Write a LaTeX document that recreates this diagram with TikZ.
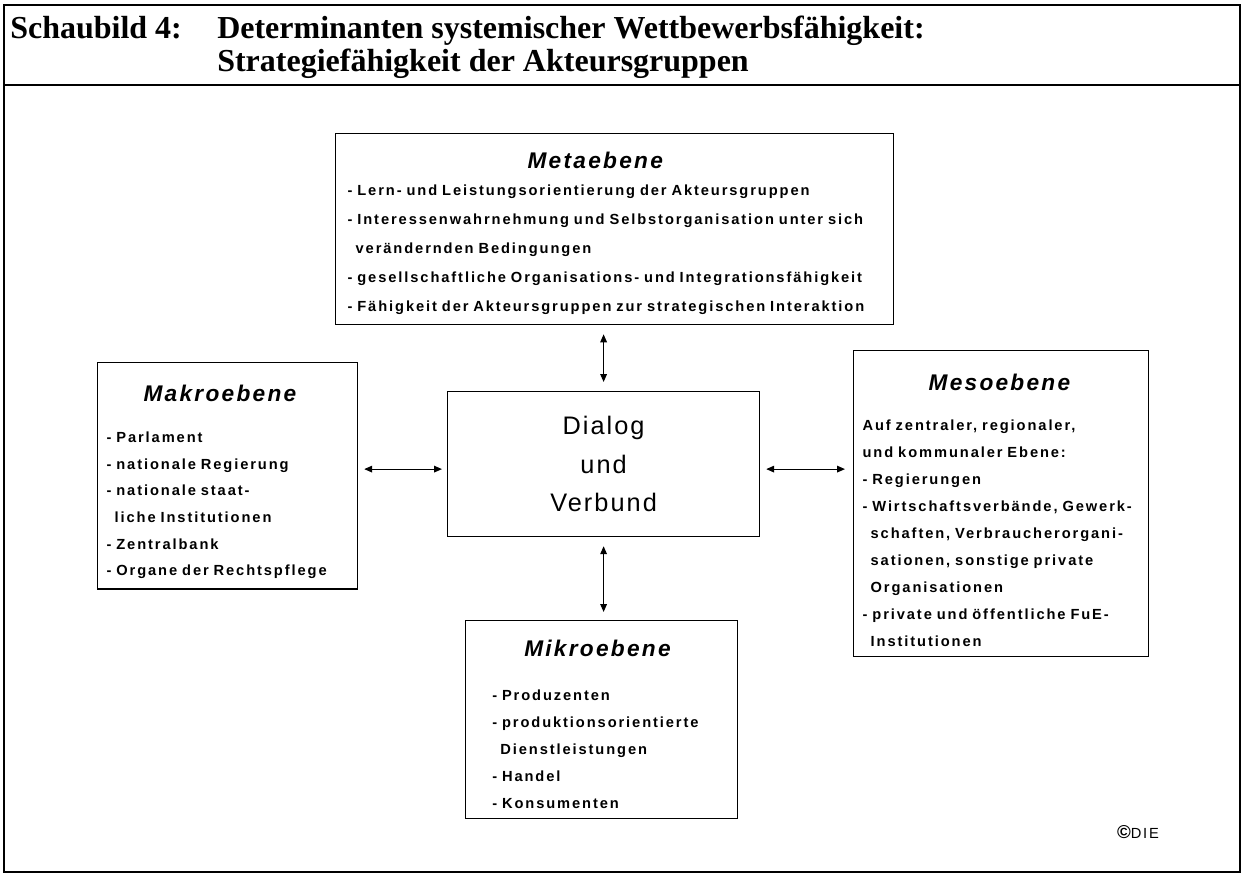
\documentclass[tikz,border=0pt]{standalone}
\usepackage{fontspec}
\setmainfont{Liberation Serif}
\newfontfamily\bodyfont[LetterSpace=13]{Liberation Sans}
\newfontfamily\headfont[LetterSpace=10]{Liberation Sans}
\newfontfamily\dialfont[LetterSpace=8]{Liberation Sans}
\usetikzlibrary{arrows.meta,positioning,calc}

% heading line of a level box: strut height, left offset, text
\newcommand{\levelhead}[3]{\rule{0pt}{#1}\hspace*{#2}{\headfont\itshape\fontsize{17}{20}\selectfont #3}}
\newcommand{\cont}{\hspace*{0.55em}}

\begin{document}
\begin{tikzpicture}[
    x=0.75pt, y=-0.75pt,
    frame/.style={line width=1.6pt},
    level/.style={draw, line width=0.9pt, anchor=north west, align=left, inner ysep=7.5pt, inner xsep=6.75pt,
      font=\bodyfont\bfseries\fontsize{11}{20.25}\selectfont},
    dialbox/.style={draw, line width=0.9pt, anchor=north west, align=center, minimum width=234pt, minimum height=108.75pt,
      font=\dialfont\fontsize{19}{29}\selectfont},
    heading/.style={font=\bfseries\fontsize{24}{28}\selectfont, anchor=base west, inner sep=0pt},
    biarrow/.style={{Triangle[length=6pt,width=5pt]}-{Triangle[length=6pt,width=5pt]}, line width=0.8pt}
  ]
  \useasboundingbox (0,0) rectangle (1244,875);

  % frame and title band
  \draw[frame] (4,5) rectangle (1240,872);
  \draw[frame] (4,85) -- (1240,85);
  \node[heading] (num) at (10,38) {Schaubild 4:};
  \node[heading] (ttl) at (217,38) {Determinanten systemischer Wettbewerbsfähigkeit:};
  \node[heading] (ttl2) at (217,71) {Strategiefähigkeit der Akteursgruppen};

  % Metaebene
  \node[level, inner xsep=9pt, text width=400.5pt, font=\bodyfont\bfseries\fontsize{11}{21.75}\selectfont] (meta) at (335,133) {
    \levelhead{18.75pt}{135pt}{Metaebene}\\[-1.5pt]
    - Lern- und Leistungsorientierung der Akteursgruppen\\
    - Interessenwahrnehmung und Selbstorganisation unter sich\\
    \cont verändernden Bedingungen\\
    - gesellschaftliche Organisations- und Integrationsfähigkeit\\
    - Fähigkeit der Akteursgruppen zur strategischen Interaktion
  };

  % Makroebene
  \node[level, text width=181.5pt, font=\bodyfont\bfseries\fontsize{11}{20}\selectfont] (makro) at (97,362) {
    \levelhead{21.75pt}{27.75pt}{Makroebene}\\[10.75pt]
    - Parlament\\
    - nationale Regierung\\
    - nationale staat-\\
    \cont liche Institutionen\\
    - Zentralbank\\
    - Organe der Rechtspflege
  };

  % Dialog und Verbund
  \node[dialbox] (dial) at (447,391) {Dialog\\und\\Verbund};

  % Mesoebene
  \node[level, text width=207.75pt] (meso) at (853,350) {
    \levelhead{22.5pt}{49.5pt}{Mesoebene}\\[9.75pt]
    Auf zentraler, regionaler,\\
    und kommunaler Ebene:\\
    - Regierungen\\
    - Wirtschaftsverbände, Gewerk-\\
    \cont schaften, Verbraucherorgani-\\
    \cont sationen, sonstige private\\
    \cont Organisationen\\
    - private und öffentliche FuE-\\
    \cont Institutionen
  };

  % Mikroebene
  \node[level, inner xsep=20pt, text width=164pt] (mikro) at (465,620) {
    \levelhead{19.5pt}{24pt}{Mikroebene}\\[12.75pt]
    - Produzenten\\
    - produktionsorientierte\\
    \cont Dienstleistungen\\
    - Handel\\
    - Konsumenten
  };

  \node[font=\bodyfont\fontsize{11}{12}\selectfont, inner sep=0pt] (die) at (1138,832) {{\bfseries\fontsize{14}{14}\selectfont\textcopyright}DIE};

  % connectors
  \draw[biarrow, shorten <=6.75pt, shorten >=6.75pt] (dial.north) -- (dial.north |- meta.south);
  \draw[biarrow, shorten <=6.75pt, shorten >=6pt] (dial.south) -- (dial.south |- mikro.north);
  \draw[biarrow, shorten <=3.75pt, shorten >=4.5pt] ($(dial.west)+(0,5)$) -- ($(dial.west -| makro.east)+(0,5)$);
  \draw[biarrow, shorten <=4.5pt, shorten >=6pt] ($(dial.east)+(0,5)$) -- ($(dial.east -| meso.west)+(0,5)$);
\end{tikzpicture}
\end{document}
